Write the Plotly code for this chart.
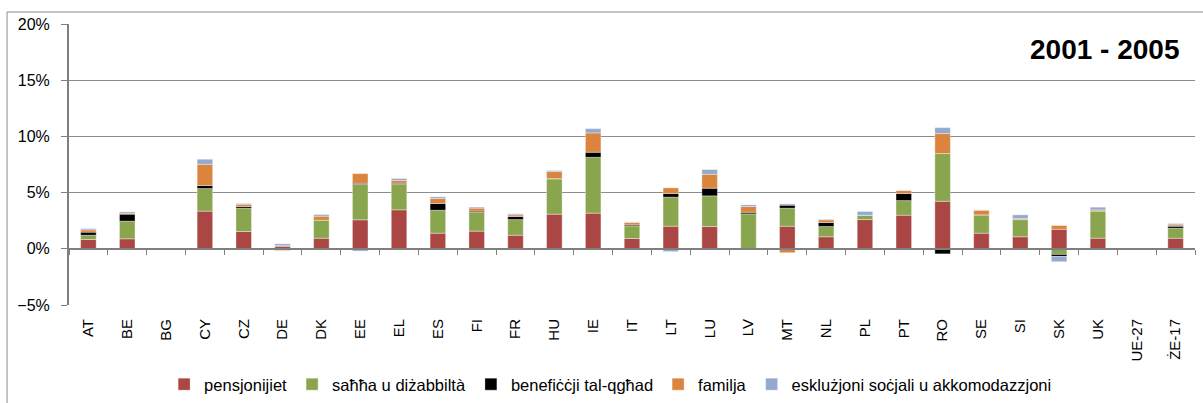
import plotly.graph_objects as go

categories = ["AT", "BE", "BG", "CY", "CZ", "DE", "DK", "EE", "EL", "ES", "FI", "FR", "HU", "IE", "IT",
              "LT", "LU", "LV", "MT", "NL", "PL", "PT", "RO", "SE", "SI", "SK", "UK", "UE-27", "ŻE-17"]

pensjonijiet = [0.83, 0.89, 0, 3.35, 1.54, 0.24, 0.94, 2.58, 3.47, 1.39, 1.57, 1.21, 3.08, 3.17, 0.92,
                2.01, 1.98, 0, 2.01, 1.07, 2.60, 2.99, 4.23, 1.39, 1.07, 1.74, 0.94, 0, 0.94]
sahha = [0.38, 1.57, 0, 2.01, 2.07, 0.03, 1.60, 3.16, 2.27, 2.04, 1.68, 1.39, 3.14, 4.97, 1.12,
         2.58, 2.73, 3.11, 1.60, 0.91, 0.39, 1.30, 4.24, 1.63, 1.53, -0.50, 2.43, 0, 0.89]
qghad = [0.27, 0.62, 0, 0.27, 0.15, 0, -0.05, 0.09, 0.09, 0.60, 0.10, 0.27, 0.03, 0.45, 0.09,
         0.33, 0.68, 0.14, 0.27, 0.36, -0.10, 0.63, -0.45, 0, 0, -0.18, 0, 0, 0.18]
familja = [0.21, 0.09, 0, 1.89, 0.20, -0.15, 0.36, 0.86, 0.24, 0.44, 0.27, 0.15, 0.62, 1.72, 0.21,
           0.50, 1.24, 0.51, -0.35, 0.24, 0, 0.26, 1.78, 0.41, 0.09, 0.33, 0.09, 0, 0.12]
eskluzjoni = [0.11, 0.12, 0, 0.45, 0.07, 0.17, 0.15, -0.20, 0.18, 0.15, 0.09, 0.09, 0.09, 0.38, 0.05,
              -0.25, 0.42, 0.15, 0.12, 0.05, 0.33, 0.03, 0.53, 0.03, 0.33, -0.47, 0.24, 0, 0.12]

series = [
    ("pensjonijiet", pensjonijiet, "#AA4643"),
    ("saħħa u diżabbiltà", sahha, "#89A54E"),
    ("benefiċċji tal-qgħad", qghad, "#000000"),
    ("familja", familja, "#DB843D"),
    ("esklużjoni soċjali u akkomodazzjoni", eskluzjoni, "#93A9CF"),
]

FONT = "Liberation Sans"
GRID = "#8C8C8C"

fig = go.Figure()
for name, vals, col in series:
    fig.add_trace(go.Bar(
        x=categories, y=vals, name=name,
        marker=dict(color=col, line=dict(color="rgba(255,255,255,0.6)", width=0.6)),
    ))

# helper trace for the category axis drawn at zero
fig.add_trace(go.Scatter(x=categories, y=[0] * len(categories), xaxis="x2", mode="markers",
                         marker=dict(opacity=0), showlegend=False, hoverinfo="skip"))

fig.update_layout(
    width=1203, height=403,
    margin=dict(l=69, r=8, t=24, b=98, autoexpand=False),
    paper_bgcolor="white", plot_bgcolor="white",
    barmode="relative", bargap=0.6,
    font=dict(family=FONT, size=16, color="#000000"),
    xaxis=dict(
        type="category", categoryorder="array", categoryarray=categories,
        range=[-0.5, len(categories) - 0.5], automargin=False,
        showgrid=False, showline=False, zeroline=False,
        ticks="", tickangle=-90, ticklabelstandoff=10,
        tickfont=dict(size=15),
    ),
    xaxis2=dict(
        type="category", categoryorder="array", categoryarray=categories,
        range=[-0.5, len(categories) - 0.5], automargin=False,
        overlaying="x", anchor="free", position=0.2,
        showgrid=False, zeroline=False, showline=True, linecolor="#7F7F7F", linewidth=2,
        ticks="outside", tickson="boundaries", ticklen=5, tickcolor="#7F7F7F", tickwidth=1,
        showticklabels=False,
    ),
    yaxis=dict(
        range=[-5, 20], dtick=5, ticksuffix="%", automargin=False,
        showgrid=True, gridcolor=GRID, gridwidth=1,
        zeroline=False, showline=True, linecolor="#7F7F7F", linewidth=2,
        ticks="outside", ticklen=6, tickcolor="#7F7F7F",
        ticklabelstandoff=8, tickfont=dict(size=16),
    ),
    legend=dict(
        orientation="h", x=0.481, xanchor="center", xref="paper",
        y=0.046, yref="container", yanchor="middle",
        traceorder="normal", font=dict(size=16.5),
    ),
    annotations=[dict(
        text="<b>2001 - 2005</b>", xref="paper", yref="paper", x=0.9875, y=0.908,
        xanchor="right", yanchor="middle", showarrow=False, font=dict(size=28, family=FONT),
    )],
    shapes=[dict(type="rect", xref="paper", yref="paper", x0=-0.055, x1=1.2, y0=-0.6, y1=1.0427,
                 line=dict(color="#8C8C8C", width=1), fillcolor="rgba(0,0,0,0)", layer="below")],
)

fig.write_html("out.html", config={"displayModeBar": False},
               post_script="document.body.style.margin='0px';")
